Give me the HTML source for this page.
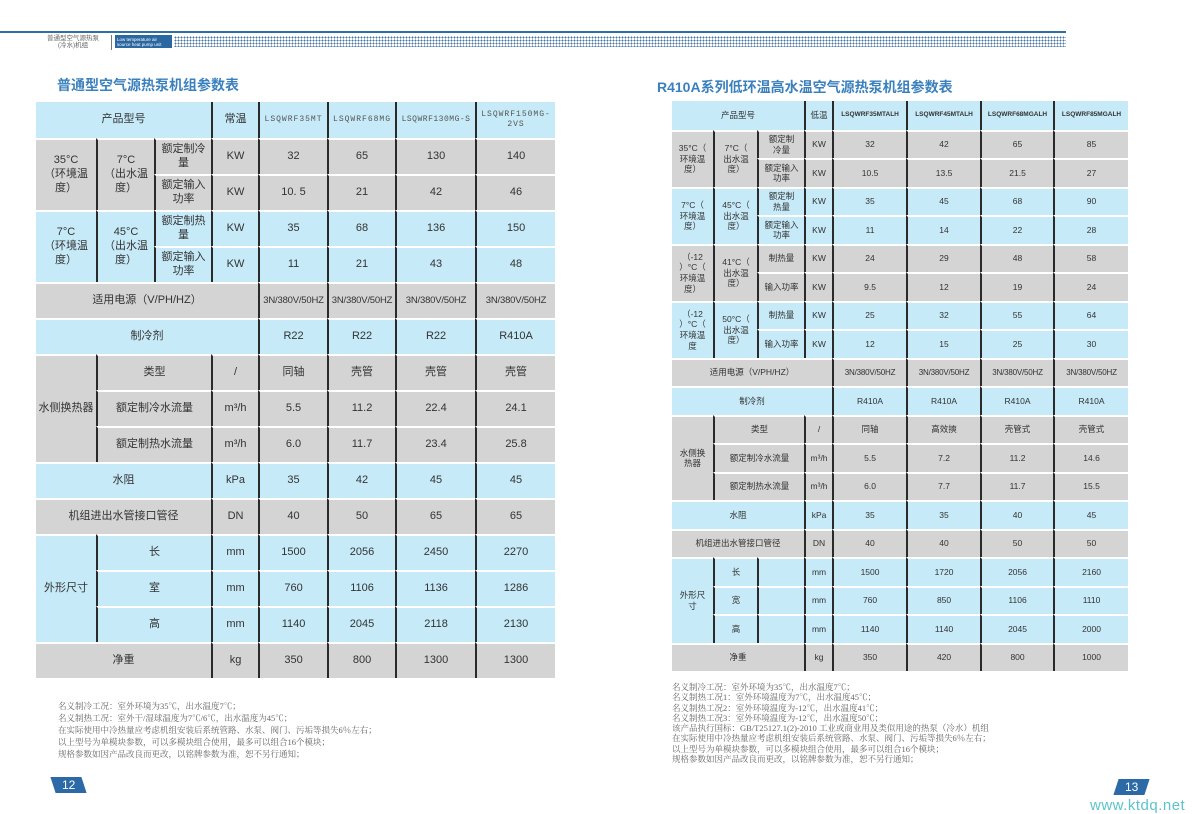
<!DOCTYPE html>
<html><head><meta charset="utf-8"><style>
*{margin:0;padding:0;box-sizing:border-box}
body{width:1200px;height:814px;background:#fff;position:relative;overflow:hidden;font-family:"Liberation Sans","Noto Sans CJK SC",sans-serif;color:#333}
.abs{position:absolute}
table{position:absolute;border-collapse:separate;border-spacing:0;table-layout:fixed}
td{border-left:2px solid #2a2a2a;border-top:2px solid #fff;text-align:center;vertical-align:middle;padding:0;line-height:1.25;overflow:hidden;white-space:nowrap}
td.f{border-left:none}
tr.t td{border-top:none}
.b td{background:#c6eaf8}
.g td{background:#d4d4d4}
#L{left:36px;top:102px;width:519px;font-size:11px}
#L td{height:36px}
#R{left:672px;top:101px;width:456px;font-size:8.5px}
#R td{height:28.5px}
.m{font-family:"Liberation Mono",monospace;font-size:8px;letter-spacing:1px;color:#555}
#R .m{font-family:"Liberation Sans",sans-serif;font-size:6.5px;letter-spacing:0;color:#333;font-weight:bold}
.p{font-size:9.5px;letter-spacing:-0.2px}
#R .p{font-size:8px}
.title{font-size:14px;color:#3a80bd;font-weight:bold;font-family:"Liberation Sans","Noto Sans CJK SC",sans-serif}
.note{font-family:"Liberation Serif","Noto Serif CJK SC",serif;color:#666;font-size:8.5px;white-space:nowrap}
.pn{background:#2b6aa6;color:#fff;font-size:12px;text-align:center;line-height:16px;height:16px;width:31px}
</style></head><body>
<div class="abs" style="left:0;top:31px;width:1066px;height:2px;background:#2f6fa6"></div>
<div class="abs" style="left:174px;top:36px;width:892px;height:11px;background-image:radial-gradient(circle,#4778aa 0.8px,transparent 1px);background-size:3px 3px"></div>
<div class="abs" style="left:38px;top:35px;width:70px;font-size:6.5px;line-height:7px;color:#666;text-align:center">普通型空气源热泵<br>(冷水)机组</div>
<div class="abs" style="left:111px;top:35px;width:1px;height:15px;background:#777"></div>
<div class="abs" style="left:115px;top:35px;width:57px;height:13px;background:#2b67a0;color:#fff;font-size:4.5px;line-height:5px;padding:2px 2px">Low temperature air source heat pump unit</div>

<div class="abs title" style="left:57px;top:75px">普通型空气源热泵机组参数表</div>
<div class="abs title" style="left:657px;top:77px">R410A系列低环温高水温空气源热泵机组参数表</div>

<table id="L">
<colgroup><col style="width:60px"><col style="width:58px"><col style="width:57px"><col style="width:47px"><col style="width:69px"><col style="width:68px"><col style="width:80px"><col style="width:80px"></colgroup>
<tr class="b t"><td class="f" colspan="3">产品型号</td><td>常温</td><td class="m">LSQWRF35MT</td><td class="m">LSQWRF68MG</td><td class="m" style="letter-spacing:0.5px">LSQWRF130MG-S</td><td class="m">LSQWRF150MG-<br>2VS</td></tr>
<tr class="g"><td class="f" rowspan="2">35°C<br>（环境温<br>度）</td><td rowspan="2">7°C<br>（出水温<br>度）</td><td>额定制冷<br>量</td><td>KW</td><td>32</td><td>65</td><td>130</td><td>140</td></tr>
<tr class="g"><td>额定输入<br>功率</td><td>KW</td><td>10. 5</td><td>21</td><td>42</td><td>46</td></tr>
<tr class="b"><td class="f" rowspan="2">7°C<br>（环境温<br>度）</td><td rowspan="2">45°C<br>（出水温<br>度）</td><td>额定制热<br>量</td><td>KW</td><td>35</td><td>68</td><td>136</td><td>150</td></tr>
<tr class="b"><td>额定输入<br>功率</td><td>KW</td><td>11</td><td>21</td><td>43</td><td>48</td></tr>
<tr class="g"><td class="f" colspan="4">适用电源（V/PH/HZ）</td><td class="p">3N/380V/50HZ</td><td class="p">3N/380V/50HZ</td><td class="p">3N/380V/50HZ</td><td class="p">3N/380V/50HZ</td></tr>
<tr class="b"><td class="f" colspan="4">制冷剂</td><td>R22</td><td>R22</td><td>R22</td><td>R410A</td></tr>
<tr class="g"><td class="f" rowspan="3">水侧换热器</td><td colspan="2">类型</td><td>/</td><td>同轴</td><td>壳管</td><td>壳管</td><td>壳管</td></tr>
<tr class="g"><td colspan="2">额定制冷水流量</td><td>m³/h</td><td>5.5</td><td>11.2</td><td>22.4</td><td>24.1</td></tr>
<tr class="g"><td colspan="2">额定制热水流量</td><td>m³/h</td><td>6.0</td><td>11.7</td><td>23.4</td><td>25.8</td></tr>
<tr class="b"><td class="f" colspan="3">水阻</td><td>kPa</td><td>35</td><td>42</td><td>45</td><td>45</td></tr>
<tr class="g"><td class="f" colspan="3">机组进出水管接口管径</td><td>DN</td><td>40</td><td>50</td><td>65</td><td>65</td></tr>
<tr class="b"><td class="f" rowspan="3">外形尺寸</td><td colspan="2">长</td><td>mm</td><td>1500</td><td>2056</td><td>2450</td><td>2270</td></tr>
<tr class="b"><td colspan="2">室</td><td>mm</td><td>760</td><td>1106</td><td>1136</td><td>1286</td></tr>
<tr class="b"><td colspan="2">高</td><td>mm</td><td>1140</td><td>2045</td><td>2118</td><td>2130</td></tr>
<tr class="g"><td class="f" colspan="3">净重</td><td>kg</td><td>350</td><td>800</td><td>1300</td><td>1300</td></tr>
</table>

<table id="R">
<colgroup><col style="width:41px"><col style="width:44px"><col style="width:47px"><col style="width:28px"><col style="width:74px"><col style="width:74px"><col style="width:73px"><col style="width:75px"></colgroup>
<tr class="b t"><td class="f" colspan="3">产品型号</td><td>低温</td><td class="m">LSQWRF35MTALH</td><td class="m">LSQWRF45MTALH</td><td class="m">LSQWRF68MGALH</td><td class="m">LSQWRF85MGALH</td></tr>
<tr class="g"><td class="f" rowspan="2">35°C（<br>环境温<br>度）</td><td rowspan="2">7°C（<br>出水温<br>度）</td><td>额定制<br>冷量</td><td>KW</td><td>32</td><td>42</td><td>65</td><td>85</td></tr>
<tr class="g"><td>额定输入<br>功率</td><td>KW</td><td>10.5</td><td>13.5</td><td>21.5</td><td>27</td></tr>
<tr class="b"><td class="f" rowspan="2">7°C（<br>环境温<br>度）</td><td rowspan="2">45°C（<br>出水温<br>度）</td><td>额定制<br>热量</td><td>KW</td><td>35</td><td>45</td><td>68</td><td>90</td></tr>
<tr class="b"><td>额定输入<br>功率</td><td>KW</td><td>11</td><td>14</td><td>22</td><td>28</td></tr>
<tr class="g"><td class="f" rowspan="2">（-12<br>）°C（<br>环境温<br>度）</td><td rowspan="2">41°C（<br>出水温<br>度）</td><td>制热量</td><td>KW</td><td>24</td><td>29</td><td>48</td><td>58</td></tr>
<tr class="g"><td>输入功率</td><td>KW</td><td>9.5</td><td>12</td><td>19</td><td>24</td></tr>
<tr class="b"><td class="f" rowspan="2">（-12<br>）°C（<br>环境温<br>度</td><td rowspan="2">50°C（<br>出水温<br>度）</td><td>制热量</td><td>KW</td><td>25</td><td>32</td><td>55</td><td>64</td></tr>
<tr class="b"><td>输入功率</td><td>KW</td><td>12</td><td>15</td><td>25</td><td>30</td></tr>
<tr class="g"><td class="f" colspan="4">适用电源（V/PH/HZ）</td><td class="p">3N/380V/50HZ</td><td class="p">3N/380V/50HZ</td><td class="p">3N/380V/50HZ</td><td class="p">3N/380V/50HZ</td></tr>
<tr class="b"><td class="f" colspan="4">制冷剂</td><td>R410A</td><td>R410A</td><td>R410A</td><td>R410A</td></tr>
<tr class="g"><td class="f" rowspan="3">水侧换<br>热器</td><td colspan="2">类型</td><td>/</td><td>同轴</td><td>高效摤</td><td>壳管式</td><td>壳管式</td></tr>
<tr class="g"><td colspan="2">额定制冷水流量</td><td>m³/h</td><td>5.5</td><td>7.2</td><td>11.2</td><td>14.6</td></tr>
<tr class="g"><td colspan="2">额定制热水流量</td><td>m³/h</td><td>6.0</td><td>7.7</td><td>11.7</td><td>15.5</td></tr>
<tr class="b"><td class="f" colspan="3">水阻</td><td>kPa</td><td>35</td><td>35</td><td>40</td><td>45</td></tr>
<tr class="g"><td class="f" colspan="3">机组进出水管接口管径</td><td>DN</td><td>40</td><td>40</td><td>50</td><td>50</td></tr>
<tr class="b"><td class="f" rowspan="3">外形尺<br>寸</td><td>长</td><td></td><td>mm</td><td>1500</td><td>1720</td><td>2056</td><td>2160</td></tr>
<tr class="b"><td>宽</td><td></td><td>mm</td><td>760</td><td>850</td><td>1106</td><td>1110</td></tr>
<tr class="b"><td>高</td><td></td><td>mm</td><td>1140</td><td>1140</td><td>2045</td><td>2000</td></tr>
<tr class="g"><td class="f" colspan="3">净重</td><td>kg</td><td>350</td><td>420</td><td>800</td><td>1000</td></tr>
</table>

<div class="abs note" style="left:58px;top:700px;line-height:12px">名义制冷工况：室外环境为35℃，出水温度7℃；<br>名义制热工况：室外干/湿球温度为7℃/6℃，出水温度为45℃；<br>在实际使用中冷热量应考虑机组安装后系统管路、水泵、阀门、污垢等损失6％左右；<br>以上型号为单模块参数，可以多模块组合使用，最多可以组合16个模块；<br>规格参数如因产品改良而更改，以铭牌参数为准，恕不另行通知；</div>
<div class="abs note" style="left:672px;top:682px;line-height:10.3px">名义制冷工况：室外环境为35℃，出水温度7℃；<br>名义制热工况1：室外环境温度为7℃，出水温度45℃；<br>名义制热工况2：室外环境温度为-12℃，出水温度41℃；<br>名义制热工况3：室外环境温度为-12℃，出水温度50℃；<br>该产品执行国标：GB/T25127.1(2)-2010 工业或商业用及类似用途的热泵（冷水）机组<br>在实际使用中冷热量应考虑机组安装后系统管路、水泵、阀门、污垢等损失6％左右；<br>以上型号为单模块参数，可以多模块组合使用，最多可以组合16个模块；<br>规格参数如因产品改良而更改，以铭牌参数为准，恕不另行通知；</div>

<div class="abs pn" style="left:53px;top:777px;transform:skewX(18deg)"><span style="display:inline-block;transform:skewX(-18deg)">12</span></div>
<div class="abs pn" style="left:1116px;top:779px;transform:skewX(-18deg)"><span style="display:inline-block;transform:skewX(18deg)">13</span></div>
<div class="abs" style="left:1090px;top:797px;font-size:15px;color:#5cc3cc;font-family:'Liberation Sans',sans-serif;letter-spacing:0.5px">www.ktdq.net</div>
</body></html>
